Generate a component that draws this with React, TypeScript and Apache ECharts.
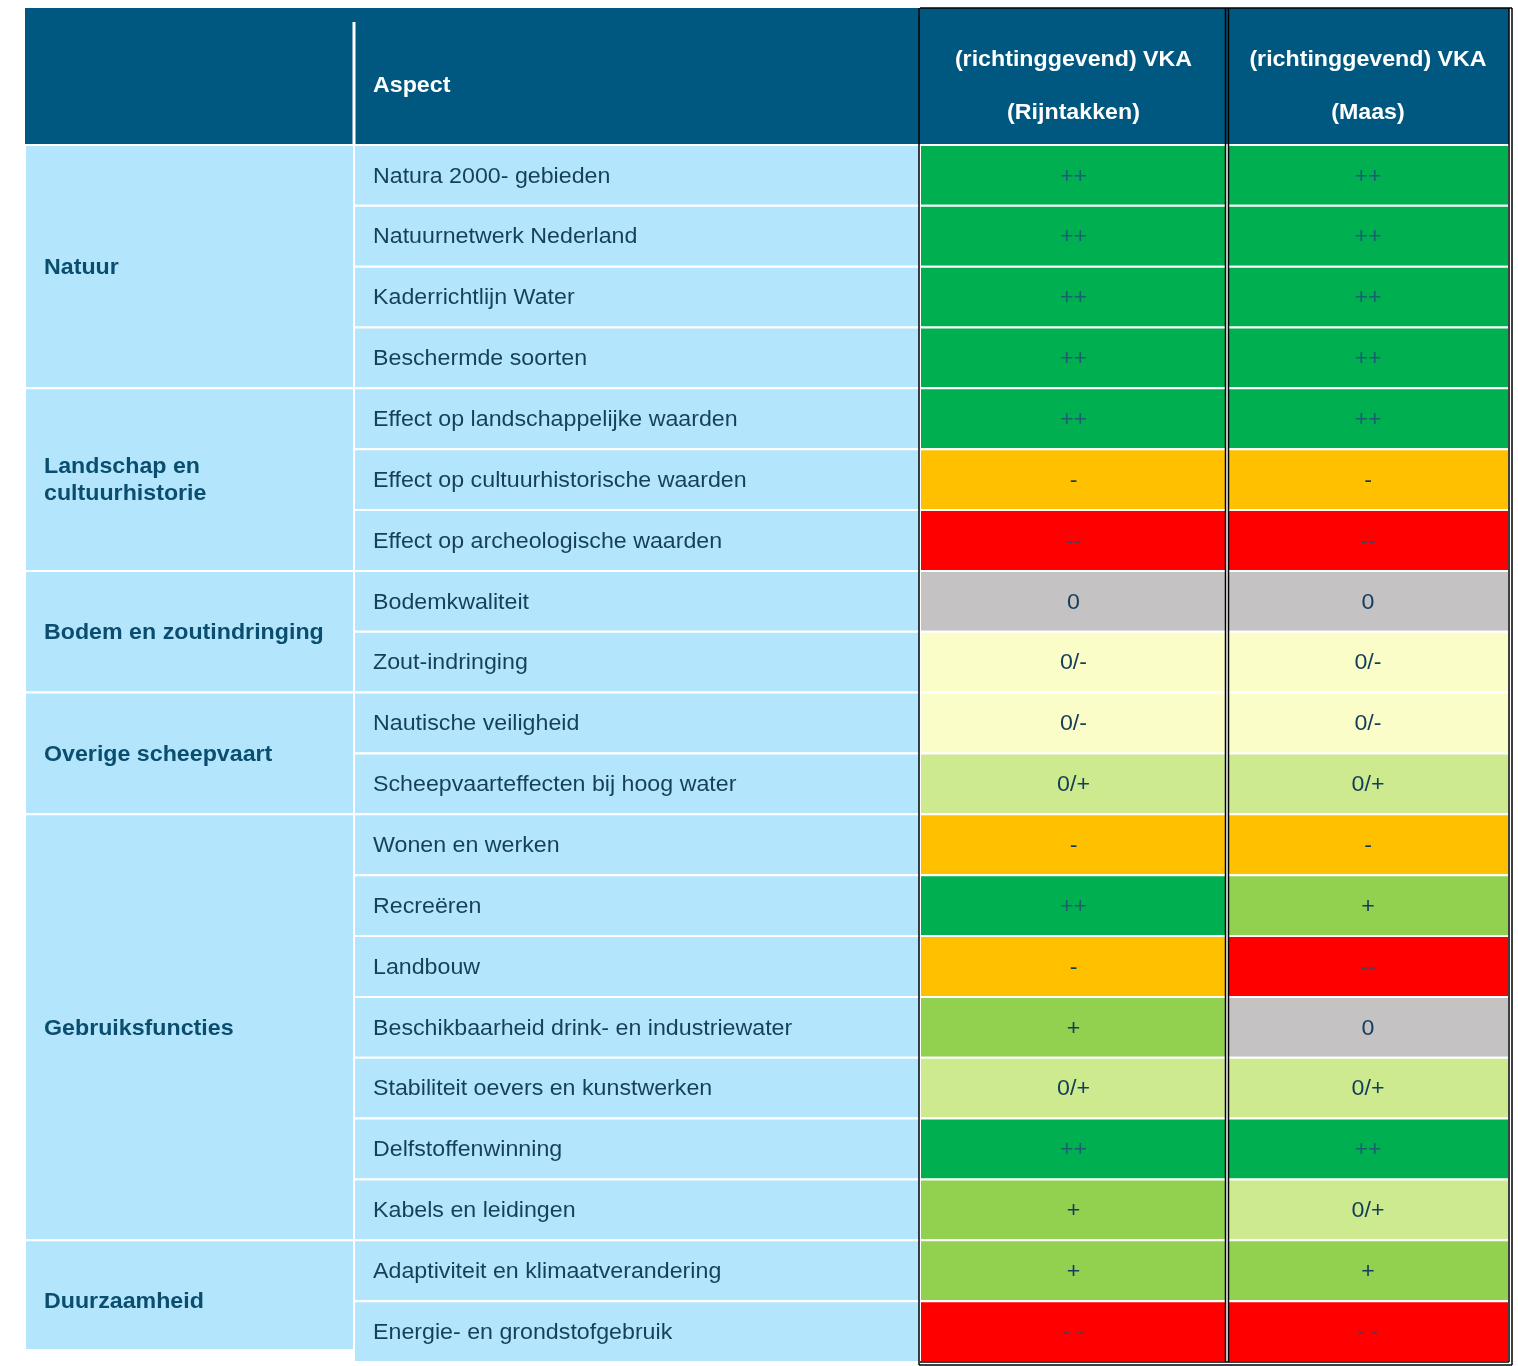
import { useEffect, useRef } from "react";
import * as echarts from "echarts";

// ---------- data ----------
const groupNames = [
  "Natuur",
  "Landschap en\ncultuurhistorie",
  "Bodem en zoutindringing",
  "Overige scheepvaart",
  "Gebruiksfuncties",
  "Duurzaamheid",
];
const groupSizes = [4, 3, 2, 2, 7, 2];
const aspects = [
  "Natura 2000- gebieden",
  "Natuurnetwerk Nederland",
  "Kaderrichtlijn Water",
  "Beschermde soorten",
  "Effect op landschappelijke waarden",
  "Effect op cultuurhistorische waarden",
  "Effect op archeologische waarden",
  "Bodemkwaliteit",
  "Zout-indringing",
  "Nautische veiligheid",
  "Scheepvaarteffecten bij hoog water",
  "Wonen en werken",
  "Recreëren",
  "Landbouw",
  "Beschikbaarheid drink- en industriewater",
  "Stabiliteit oevers en kunstwerken",
  "Delfstoffenwinning",
  "Kabels en leidingen",
  "Adaptiviteit en klimaatverandering",
  "Energie- en grondstofgebruik",
];
const rijntakken = ["++", "++", "++", "++", "++", "-", "--", "0", "0/-", "0/-", "0/+", "-", "++", "-", "+", "0/+", "++", "+", "+", "- -"];
const maas = ["++", "++", "++", "++", "++", "-", "--", "0", "0/-", "0/-", "0/+", "-", "+", "--", "0", "0/+", "++", "0/+", "+", "- -"];
const headerAspect = "Aspect";
const headerValues = ["(richtinggevend) VKA\n(Rijntakken)", "(richtinggevend) VKA\n(Maas)"];
const scoreColors: Record<string, string> = {
  "++": "#00B050",
  "+": "#92D050",
  "0/+": "#CDEA8F",
  "0": "#C4C2C2",
  "0/-": "#FAFDC7",
  "-": "#FFC000",
  "--": "#FF0000",
};

// ---------- layout / style ----------
const COL_W = [329, 566, 307, 282];
const HEADER_ROWS = 2.25;
const DARK = "#005780";
const LIGHT = "#B3E6FC";
const FONT = "'Liberation Sans', Arial, sans-serif";
const FS = 22;
const TEXT_SCALE_X = 1.055;

const colEdges = COL_W.reduce((a: number[], w) => [...a, a[a.length - 1] + w], [0]);
const totalW = colEdges[colEdges.length - 1];
const nRows = aspects.length;

type Cell = { x0: number; x1: number; y0: number; y1: number; kind: string; text: string; fill: string };

function buildCells(): Cell[] {
  const cells: Cell[] = [];
  cells.push({ x0: colEdges[0], x1: colEdges[1], y0: -HEADER_ROWS, y1: 0, kind: "headBlank", text: "", fill: DARK });
  cells.push({ x0: colEdges[1], x1: colEdges[2], y0: -HEADER_ROWS, y1: 0, kind: "headAspect", text: headerAspect, fill: DARK });
  headerValues.forEach((h, i) =>
    cells.push({ x0: colEdges[2 + i], x1: colEdges[3 + i], y0: -HEADER_ROWS, y1: 0, kind: "headVal", text: h, fill: DARK })
  );
  let r = 0;
  groupNames.forEach((g, gi) => {
    cells.push({ x0: colEdges[0], x1: colEdges[1], y0: r, y1: r + groupSizes[gi], kind: gi === groupNames.length - 1 ? "groupLast" : "group", text: g, fill: LIGHT });
    r += groupSizes[gi];
  });
  aspects.forEach((a, i) => cells.push({ x0: colEdges[1], x1: colEdges[2], y0: i, y1: i + 1, kind: "aspect", text: a, fill: LIGHT }));
  [rijntakken, maas].forEach((arr, ci) =>
    arr.forEach((s, i) =>
      cells.push({
        x0: colEdges[2 + ci],
        x1: colEdges[3 + ci],
        y0: i,
        y1: i + 1,
        kind: "val",
        text: s,
        fill: scoreColors[s.replace(/\s/g, "")],
      })
    )
  );
  return cells;
}

export default function App() {
  const ref = useRef<HTMLDivElement>(null);
  useEffect(() => {
    if (!ref.current) return;
    const chart = echarts.init(ref.current, undefined, { renderer: "svg" });
    const cells = buildCells();

    const renderCell = (params: any, api: any) => {
      const c = cells[params.dataIndex];
      const p0 = api.coord([c.x0, c.y0]);
      const p1 = api.coord([c.x1, c.y1]);
      const x = p0[0];
      const y = p0[1];
      const w = p1[0] - p0[0];
      let h = p1[1] - p0[1];
      if (c.kind === "groupLast") h -= 12;
      const children: any[] = [];
      const isHead = c.kind.startsWith("head");
      children.push({
        type: "rect",
        shape: { x, y, width: w, height: h },
        style: { fill: c.fill, stroke: isHead ? null : "#FFFFFF", lineWidth: isHead ? 0 : 2 },
      });
      if (c.kind === "headAspect") {
        children.push({
          type: "line",
          shape: { x1: x, y1: y + 14, x2: x, y2: y + h },
          style: { stroke: "#FFFFFF", lineWidth: 3 },
        });
      }
      if (c.text) {
        const center = c.kind === "val" || c.kind === "headVal";
        const isBold = isHead || c.kind.startsWith("group");
        let fill = "#163F5C";
        let opacity = 1;
        if (isHead) fill = "#FFFFFF";
        else if (c.kind.startsWith("group")) fill = "#0B4D6E";
        else if (c.kind === "val") {
          fill = "#123D5C";
          if (c.text === "++" || c.text.replace(/\s/g, "") === "--") {
            fill = "#1F4E79";
            opacity = 0.8;
          }
        }
        const ty = isHead ? y + 77 : c.kind === "groupLast" ? y + (h + 12) / 2 : y + h / 2;
        children.push({
          type: "text",
          x: center ? x + w / 2 : x + 19,
          y: ty,
          scaleX: TEXT_SCALE_X,
          style: {
            text: c.text,
            fill,
            opacity,
            font: `${isBold ? "bold " : ""}${FS}px ${FONT}`,
            textAlign: center ? "center" : "left",
            textVerticalAlign: "middle",
            align: center ? "center" : "left",
            verticalAlign: "middle",
            lineHeight: c.kind === "headVal" ? 53 : 27,
          },
        });
      }
      return { type: "group", children };
    };

    const renderFrame = (_params: any, api: any) => {
      const top = api.coord([colEdges[2], -HEADER_ROWS]);
      const bot = api.coord([colEdges[4], nRows]);
      const mid = api.coord([colEdges[3], 0])[0];
      const left = top[0];
      const right = bot[0];
      const t = top[1];
      const b = bot[1];
      const st = { stroke: "#000000", lineWidth: 1.5 };
      const ln = (x1: number, y1: number, x2: number, y2: number) => ({ type: "line", shape: { x1, y1, x2, y2 }, style: st });
      return {
        type: "group",
        children: [
          ln(left, t, right + 3, t),
          ln(left - 1, t, left - 1, b + 3),
          ln(mid - 1.5, t, mid - 1.5, b),
          ln(mid + 1.5, t, mid + 1.5, b),
          ln(right, t, right, b),
          ln(right + 3, t, right + 3, b + 3),
          ln(left, b, right, b),
          ln(left - 1, b + 3, right + 3, b + 3),
        ],
      };
    };

    chart.setOption({
      animation: false,
      grid: { left: 25, top: 8, width: 1484, height: 1354 },
      xAxis: { type: "value", min: 0, max: totalW, show: false },
      yAxis: { type: "value", min: -HEADER_ROWS, max: nRows, inverse: true, show: false },
      series: [
        {
          type: "custom",
          renderItem: renderCell,
          data: cells.map((c) => [c.x0, c.x1, c.y0, c.y1]),
          encode: { x: [0, 1], y: [2, 3] },
          clip: false,
          silent: true,
        },
        {
          type: "custom",
          renderItem: renderFrame,
          data: [[0, 0]],
          clip: false,
          silent: true,
          z: 10,
        },
      ],
    });
    return () => chart.dispose();
  }, []);
  return <div ref={ref} style={{ position: "fixed", left: 0, top: 0, width: 1518, height: 1366 }} />;
}
